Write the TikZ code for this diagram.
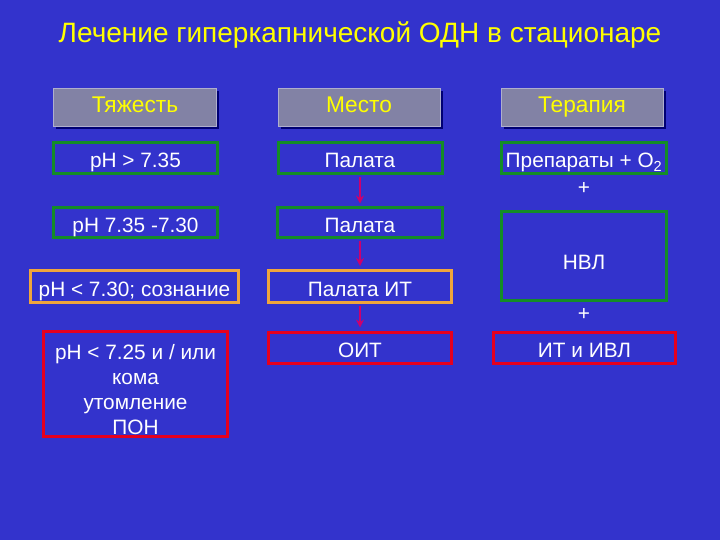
\documentclass[tikz,border=0pt]{standalone}
\usepackage{fontspec}
\setmainfont{Liberation Sans}
\usetikzlibrary{shadows,arrows.meta}

\definecolor{slidebg}{RGB}{51,51,204}
\definecolor{titleyellow}{RGB}{255,255,0}
\definecolor{headgray}{RGB}{130,130,165}
\definecolor{headedge}{RGB}{175,175,205}
\definecolor{boxgreen}{RGB}{20,140,40}
\definecolor{boxorange}{RGB}{240,165,60}
\definecolor{boxred}{RGB}{230,0,30}
\definecolor{linkmagenta}{RGB}{204,0,110}

\begin{document}
\begin{tikzpicture}[x=1bp,y=-1bp]

  \tikzstyle{head} = [draw=headedge, fill=headgray, line width=1bp, rectangle, minimum width=162bp, minimum height=38bp, inner sep=0pt, text height=16bp, text depth=6bp, text=titleyellow, font=\fontsize{22.7bp}{26bp}\selectfont, drop shadow={shadow xshift=2.5bp, shadow yshift=-2.5bp, fill=black!55!blue, opacity=1}]
  \tikzstyle{box} = [draw, line width=3bp, rectangle, inner sep=0pt, text=white, text height=19bp, text depth=0bp, font=\fontsize{20.8bp}{25bp}\selectfont]
  \tikzstyle{mild} = [box, draw=boxgreen]
  \tikzstyle{moderate} = [box, draw=boxorange]
  \tikzstyle{severe} = [box, draw=boxred]
  \tikzstyle{plus} = [text=white, font=\fontsize{20.8bp}{25bp}\selectfont]
  \tikzstyle{link} = [-{Stealth[length=8bp,width=8bp]}, color=linkmagenta, line width=2.2bp, shorten <=1.5bp, shorten >=3bp]

  \useasboundingbox (0,0) rectangle (720,540);
  \fill[slidebg] (0,0) rectangle (720,540);

  \node[text=titleyellow, font=\fontsize{28bp}{32bp}\selectfont] (title) at (360,35) {Лечение гиперкапнической ОДН в стационаре};

  % column heads
  \node[head] (severity) at (135,108) {Тяжесть};
  \node[head] (place) at (359,108) {Место};
  \node[head] (therapy) at (582,108) {Терапия};

  % first row
  \node[mild, minimum width=164bp, minimum height=31bp] (ph1) at (135.5,158.5) {pH > 7.35};
  \node[mild, minimum width=164bp, minimum height=31bp] (ward1) at (360,158.5) {Палата};
  \node[mild, minimum width=165bp, minimum height=31bp] (drugs) at (584,158.5) {Препараты + O\textsubscript{2}};
  \node[plus] (plus1) at (584,188) {+};

  % second row
  \node[mild, minimum width=164bp, minimum height=30bp] (ph2) at (135.5,223) {pH 7.35 -7.30};
  \node[mild, minimum width=165bp, minimum height=30bp] (ward2) at (360,223) {Палата};
  \node[mild, minimum width=165bp, minimum height=88bp, text height=28bp] (niv) at (584,256) {НВЛ};
  \node[plus] (plus2) at (584,314) {+};

  % third row
  \node[moderate, minimum width=208bp, minimum height=32bp] (ph3) at (134.5,286.5) {pH < 7.30; сознание};
  \node[moderate, minimum width=183bp, minimum height=32bp] (ward3) at (360,286.5) {Палата ИТ};

  % fourth row
  \node[severe, minimum width=184bp, minimum height=105bp, align=center, text height=100bp, text depth=0bp] (ph4) at (135.5,384) {pH < 7.25 и / или\\кома\\утомление\\ПОН};
  \node[severe, minimum width=183bp, minimum height=31bp] (icu) at (360,347.5) {ОИТ};
  \node[severe, minimum width=182bp, minimum height=31bp] (imv) at (584.5,347.5) {ИТ и ИВЛ};

  \draw[link] (ward1) -- (ward2);
  \draw[link] (ward2) -- (ward3);
  \draw[link] (ward3) -- (icu);

\end{tikzpicture}
\end{document}
